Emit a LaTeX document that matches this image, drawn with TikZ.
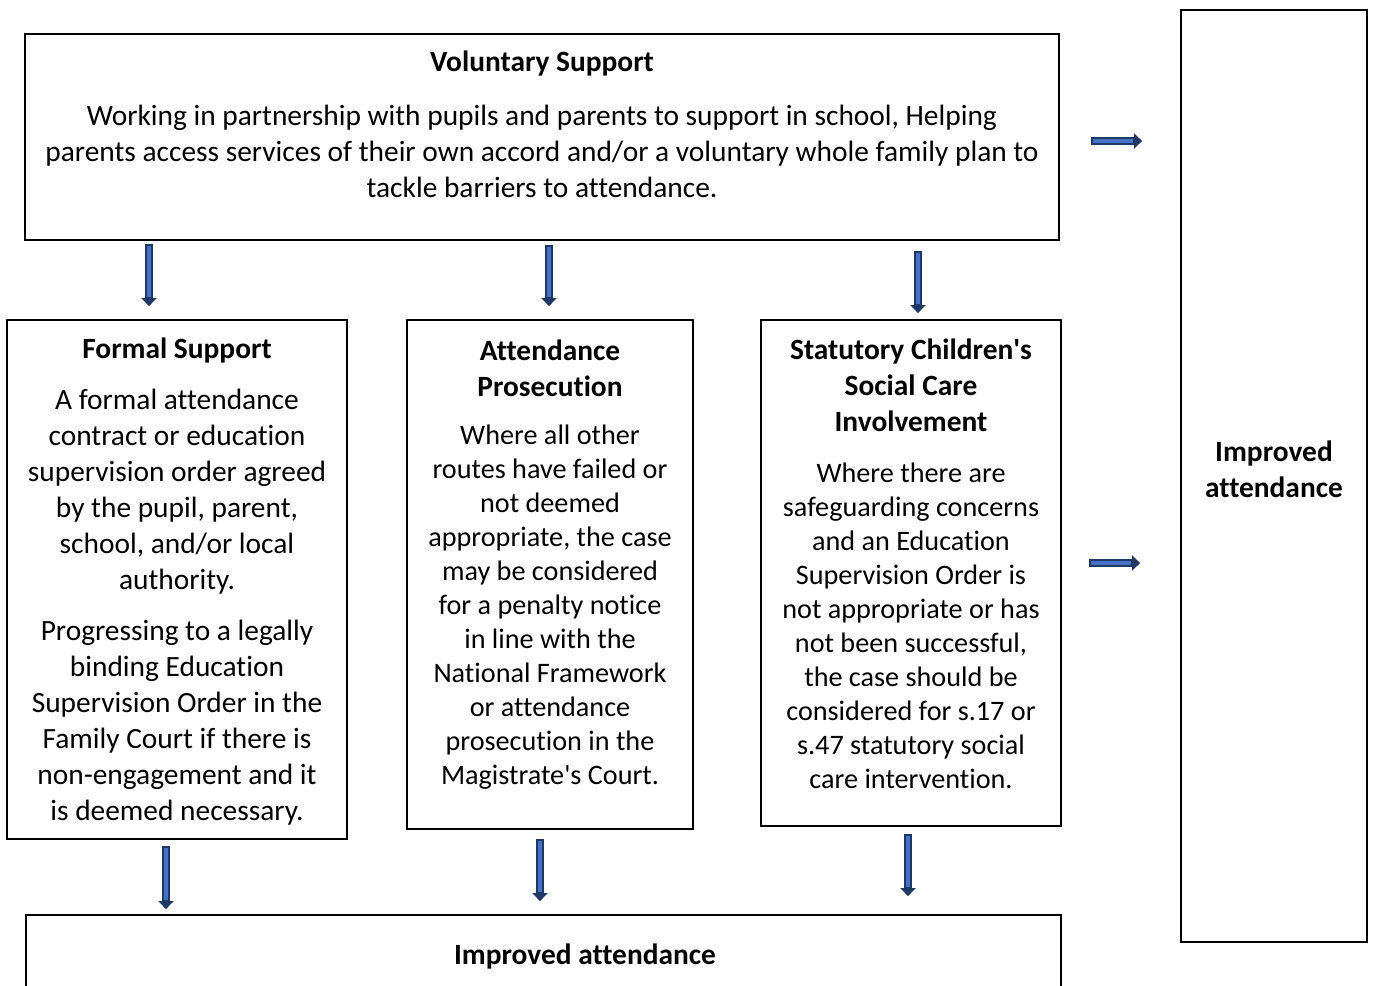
\documentclass[tikz,border=0pt]{standalone}
\usepackage{fontspec}
\setmainfont{Carlito}[Ligatures=NoCommon]
\usetikzlibrary{positioning, calc, arrows.meta}
\definecolor{arrowline}{RGB}{31,56,100}
\definecolor{arrowfill}{RGB}{68,114,196}
\tikzset{
box/.style={draw, line width=0.9pt, rectangle, inner sep=0pt}, % outline of every box
txt/.style={align=center, inner sep=0pt, font=\fontsize{14.7}{18}\selectfont}, % body text
tight/.style={txt, font=\fontsize{14.1}{17}\selectfont}, % body text, closer lines
head/.style={txt, font=\fontsize{14.7}{18}\selectfont\bfseries}, % box titles
flow/.style={draw=arrowline, line width=3.8pt, -{Triangle[length=4pt,width=7.5pt]},
  postaction={draw=arrowfill, line width=1.6pt, -, shorten >=4.5pt, shorten <=0.8pt}}, % block arrows
}

\begin{document}
\begin{tikzpicture}[x=0.5pt, y=-0.5pt]
        \clip (0,0) rectangle (1373,986);
        % boxes
        \node[box, minimum width=517pt, minimum height=103pt] (vol) at (542,137) {};
        \node[box, minimum width=170pt, minimum height=259.5pt] (formal) at (177,579.5) {};
        \node[box, minimum width=143pt, minimum height=254.5pt] (pros) at (550,574.5) {};
        \node[box, minimum width=150pt, minimum height=253pt] (stat) at (911,573) {};
        \node[box, minimum width=93pt, minimum height=466pt] (right) at (1274,476) {};
        \node[box, minimum width=517.5pt, minimum height=100pt] (bottom) at (543.5,1015) {};
        % texts
        \node[head] (volhead) at (542,63) {Voluntary Support};
        \node[txt] (voltext) at (542,151) {Working in partnership with pupils and parents to support in school, Helping\\
          parents access services of their own accord and/or a voluntary whole family plan to\\
          tackle barriers to attendance.};
        \node[head] (formalhead) at (177,350) {Formal Support};
        \node[txt] (formaltext) at (177,491.5) {A formal attendance\\contract or education\\supervision order agreed\\
          by the pupil, parent,\\school, and/or local\\authority.};
        \node[txt] (formalmore) at (177,722.5) {Progressing to a legally\\binding Education\\Supervision Order in the\\
          Family Court if there is\\non-engagement and it\\is deemed necessary.};
        \node[head] (proshead) at (550,368) {Attendance\\Prosecution};
        \node[tight] (prostext) at (550,607.5) {Where all other\\routes have failed or\\not deemed\\appropriate, the case\\
          may be considered\\for a penalty notice\\in line with the\\National Framework\\or attendance\\
          prosecution in the\\Magistrate\textquotesingle s Court.};
        \node[head] (stathead) at (911,385) {Statutory Children\textquotesingle s\\Social Care\\Involvement};
        \node[tight] (stattext) at (911,626) {Where there are\\safeguarding concerns\\and an Education\\Supervision Order is\\
          not appropriate or has\\not been successful,\\the case should be\\considered for s.17 or\\
          s.47 statutory social\\care intervention.};
        \node[head] (righthead) at (1274,469) {Improved\\attendance};
        \node[head] (bottomhead) at (585,956) {Improved attendance};
        % arrow lanes
        \coordinate (c1) at (149,0);
        \coordinate (c2) at (549,0);
        \coordinate (c3) at (918,0);
        \coordinate (d1) at (166,0);
        \coordinate (d2) at (540,0);
        \coordinate (d3) at (908,0);
        \coordinate (r1) at (0,141);
        \coordinate (r2) at (0,563);
        % arrows
        \draw[flow] ($(vol.south -| c1)+(0,3)$) -- ($(formal.north -| c1)+(0,-13)$);
        \draw[flow] ($(vol.south -| c2)+(0,4)$) -- ($(pros.north -| c2)+(0,-13)$);
        \draw[flow] ($(vol.south -| c3)+(0,10)$) -- ($(stat.north -| c3)+(0,-6)$);
        \draw[flow] ($(formal.south -| d1)+(0,6)$) -- ($(bottom.north -| d1)+(0,-5)$);
        \draw[flow] ($(pros.south -| d2)+(0,9)$) -- ($(bottom.north -| d2)+(0,-13)$);
        \draw[flow] ($(stat.south -| d3)+(0,7)$) -- ($(bottom.north -| d3)+(0,-18)$);
        \draw[flow] ($(vol.east |- r1)+(31,0)$) -- ($(right.west |- r1)+(-38,0)$);
        \draw[flow] ($(stat.east |- r2)+(27,0)$) -- ($(right.west |- r2)+(-40,0)$);
\end{tikzpicture}
\end{document}
